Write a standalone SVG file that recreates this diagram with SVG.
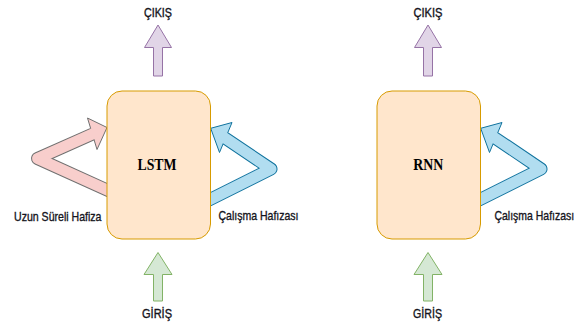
<svg xmlns="http://www.w3.org/2000/svg" width="584" height="327" viewBox="0 0 584 327">
<style>
.box{fill:#ffe6cc;stroke:#d79b00;stroke-width:1}
.purple{fill:#e1d5e7;stroke:#9673a6;stroke-width:1}
.green{fill:#d5e8d4;stroke:#82b366;stroke-width:1}
.pinkO{fill:none;stroke:#707070;stroke-width:13;stroke-linejoin:round}
.pinkI{fill:none;stroke:#f8cecc;stroke-width:11;stroke-linejoin:round}
.pinkH{fill:#f8cecc;stroke:#707070;stroke-width:1;stroke-linejoin:miter}
.blueO{fill:none;stroke:#10739e;stroke-width:13;stroke-linejoin:round}
.blueI{fill:none;stroke:#b1ddf0;stroke-width:11;stroke-linejoin:round}
.blueH{fill:#b1ddf0;stroke:#10739e;stroke-width:1}
.lbl{font-family:"Liberation Sans",Arial,sans-serif;font-size:13px;fill:#141420;stroke:#141420;stroke-width:0.35}
.io{font-family:"Liberation Sans",Arial,sans-serif;font-size:12px;fill:#141420;stroke:#141420;stroke-width:0.35;text-anchor:middle}
.title{font-family:"Liberation Serif","Times New Roman",serif;font-size:17px;font-weight:bold;fill:#000;text-anchor:middle}
</style>
<g id="connectors">
  <polygon class="purple" points="158,25 171.5,47.5 162.5,47.5 162.5,76 153.5,76 153.5,47.5 144.5,47.5"/>
  <polygon class="green" points="158,252.5 172,274.5 162.5,274.5 162.5,301 153.5,301 153.5,274.5 144,274.5"/>
  <polygon class="purple" points="428,25 441.5,47.5 432.5,47.5 432.5,76 423.5,76 423.5,47.5 414.5,47.5"/>
  <polygon class="green" points="428,252.5 442,274.5 432.5,274.5 432.5,301 423.5,301 423.5,274.5 414,274.5"/>
  <g id="ltm-arrow">
    <path class="pinkO" d="M115,193.6 L37.5,158.5 L92.4,134.1"/>
    <polygon class="pinkH" points="107,127.5 97,149.5 87.5,118"/>
    <path class="pinkI" d="M116,194 L37.5,158.5 L94.2,133.3"/>
  </g>
  <g id="wm-arrow-lstm">
    <path class="blueO" d="M200,204.5 L271,169 L224.8,137.8"/>
    <polygon class="blueH" points="210.7,128.3 232,122.5 219.5,152.5"/>
    <path class="blueI" d="M199,205 L271,169 L223.1,136.7"/>
  </g>
  <g id="wm-arrow-rnn">
    <path class="blueO" d="M470,204.5 L541,169 L494.8,137.8"/>
    <polygon class="blueH" points="480.7,128.3 502,122.5 489.5,152.5"/>
    <path class="blueI" d="M469,205 L541,169 L493.1,136.7"/>
  </g>
</g>
<g id="lstm">
  <rect class="box" x="107" y="91" width="103.5" height="148" rx="15" ry="15"/>
  <text class="title" x="157" y="170" textLength="39" lengthAdjust="spacingAndGlyphs">LSTM</text>
</g>
<g id="rnn">
  <rect class="box" x="377" y="91" width="103.5" height="148" rx="15" ry="15"/>
  <text class="title" x="428.3" y="170" textLength="30" lengthAdjust="spacingAndGlyphs">RNN</text>
</g>
<g id="labels">
  <text class="io" x="158" y="16.5" textLength="28" lengthAdjust="spacingAndGlyphs">ÇIKIŞ</text>
  <text class="io" x="428" y="16.5" textLength="29" lengthAdjust="spacingAndGlyphs">ÇIKIŞ</text>
  <text class="io" x="157" y="317.5" textLength="30" lengthAdjust="spacingAndGlyphs">GİRİŞ</text>
  <text class="io" x="427.5" y="317.5" textLength="29" lengthAdjust="spacingAndGlyphs">GİRİŞ</text>
  <text class="lbl" x="14" y="220.5" textLength="87.5" lengthAdjust="spacingAndGlyphs">Uzun Süreli Hafiza</text>
  <text class="lbl" x="218.5" y="220" textLength="80" lengthAdjust="spacingAndGlyphs">Çalışma Hafızası</text>
  <text class="lbl" transform="translate(494.5,220) scale(0.805,1)" x="0" y="0">Çalışma Hafızası</text>
</g>
</svg>
